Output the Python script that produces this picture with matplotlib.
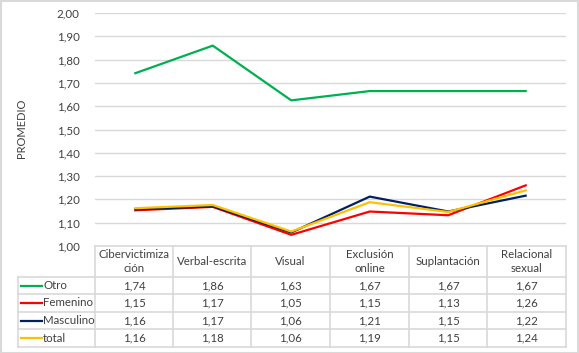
import matplotlib
matplotlib.use("Agg")
import matplotlib.pyplot as plt
from matplotlib.lines import Line2D
from matplotlib.patches import Rectangle

categories = ["Cibervictimiza\nción", "Verbal-escrita", "Visual", "Exclusión\nonline", "Suplantación", "Relacional\nsexual"]
series_names = ["Otro", "Femenino", "Masculino", "total"]
otro = [1.74, 1.86, 1.625, 1.665, 1.665, 1.665]
femenino = [1.153, 1.168, 1.048, 1.148, 1.132, 1.262]
masculino = [1.157, 1.17, 1.058, 1.212, 1.148, 1.217]
total = [1.162, 1.176, 1.062, 1.188, 1.146, 1.24]
table_otro = ["1,74", "1,86", "1,63", "1,67", "1,67", "1,67"]
table_femenino = ["1,15", "1,17", "1,05", "1,15", "1,13", "1,26"]
table_masculino = ["1,16", "1,17", "1,06", "1,21", "1,15", "1,22"]
table_total = ["1,16", "1,18", "1,06", "1,19", "1,15", "1,24"]
colors = ["#00b050", "#ff0000", "#002060", "#ffc000"]
yticks = [1.0, 1.1, 1.2, 1.3, 1.4, 1.5, 1.6, 1.7, 1.8, 1.9, 2.0]

plt.rcParams['font.family'] = ['Lato', 'DejaVu Sans']
W, H = 579, 353
fig = plt.figure(figsize=(W/100, H/100), dpi=100)
FS = 8.3

def fx(px):
    return px / W
def fy(py):
    return 1 - py / H

L, R, T, B = 95, 566, 13, 246
ax = fig.add_axes([fx(L), fy(B), fx(R) - fx(L), fy(T) - fy(B)])
ax.set_xlim(-0.5, len(categories) - 0.5)
ax.set_ylim(1.0, 2.0)
for s in ax.spines.values():
    s.set_visible(False)
ax.set_xticks([])
ax.set_yticks(yticks)
ax.set_yticklabels([f"{v:.2f}".replace(".", ",") for v in yticks], fontsize=FS, color="#404040")
ax.tick_params(axis="y", length=0, pad=11)
ax.grid(axis="y", color="#d9d9d9", linewidth=1)
ax.set_axisbelow(True)
xs = list(range(len(categories)))
for vals, c in zip([otro, femenino, masculino, total], colors):
    ax.plot(xs, vals, color=c, linewidth=1.6, solid_capstyle="butt", clip_on=False)

fig.text(fx(21), fy(128), "PROMEDIO", rotation=90, ha="center", va="center", fontsize=8, color="#404040")

# table
grid_c = "#d9d9d9"
col_edges = [95, 173, 251, 330, 409, 487, 566]
row_edges = [246, 277, 294, 312, 329, 347]
def hline(x0, x1, y):
    fig.add_artist(Line2D([fx(x0), fx(x1)], [fy(y), fy(y)], color=grid_c, linewidth=1.2))
def vline(x, y0, y1):
    fig.add_artist(Line2D([fx(x), fx(x)], [fy(y0), fy(y1)], color=grid_c, linewidth=1.2))

hline(95, 566, 246)
for y in row_edges[1:]:
    hline(18, 566, y)
for x in col_edges:
    vline(x, 246, 347)
vline(18, 277, 347)

for i, cat in enumerate(categories):
    cx = (col_edges[i] + col_edges[i+1]) / 2
    fig.text(fx(cx), fy(261.5), cat, ha="center", va="center", fontsize=FS, color="#404040", linespacing=1.35)

rows = [table_otro, table_femenino, table_masculino, table_total]
for r, (vals, name, c) in enumerate(zip(rows, series_names, colors)):
    cy = (row_edges[r+1] + row_edges[r+2]) / 2
    fig.add_artist(Line2D([fx(21), fx(42)], [fy(cy), fy(cy)], color=c, linewidth=1.6))
    fig.text(fx(43), fy(cy), name, ha="left", va="center", fontsize=FS, color="#404040")
    for i, v in enumerate(vals):
        cx = (col_edges[i] + col_edges[i+1]) / 2
        fig.text(fx(cx), fy(cy), v, ha="center", va="center", fontsize=FS, color="#404040")

fig.add_artist(Rectangle((0.001, 0.001), 0.997, 0.996, transform=fig.transFigure, fill=False, edgecolor="#d9d9d9", linewidth=1.5))

fig.savefig("out.png", dpi=100)
